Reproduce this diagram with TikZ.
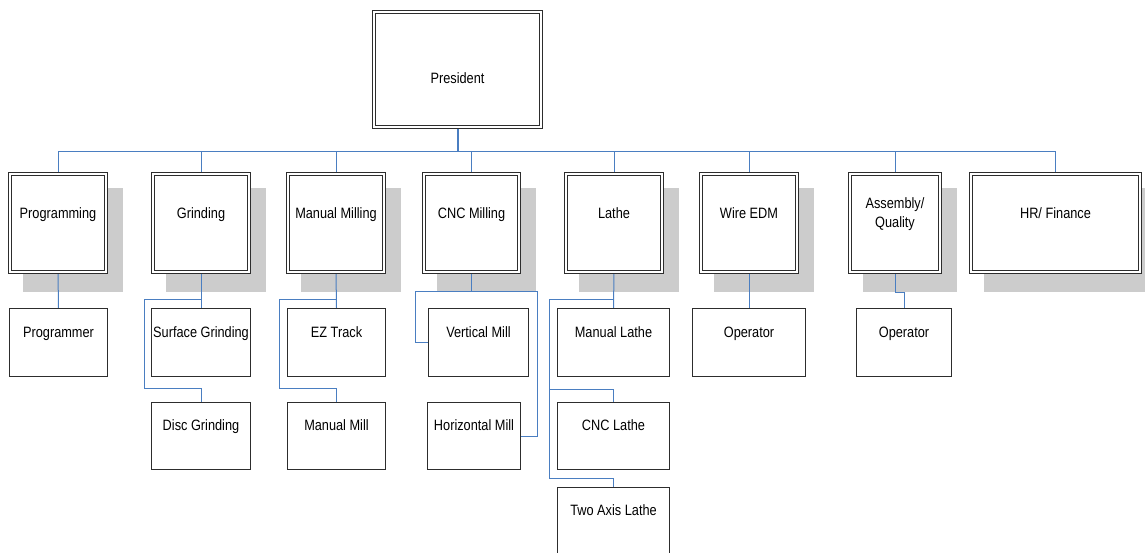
\documentclass[tikz,border=0pt]{standalone}
\usepackage{fontspec}
\newfontfamily\orgfont{Liberation Sans}[FakeStretch=0.85]
\usetikzlibrary{backgrounds}
\definecolor{linkblue}{RGB}{74,126,193}
\definecolor{boxline}{RGB}{45,45,45}
\definecolor{shadowgray}{RGB}{204,204,204}
\begin{document}
\begin{tikzpicture}[x=1pt,y=-1pt,
  every node/.style={font=\orgfont\fontsize{15}{19}\selectfont, align=center, inner sep=0pt},
  dept/.style={draw=boxline, double=white, double distance=2pt, line width=0.9pt, fill=white,
               text height=11pt, text depth=20pt, minimum height=98pt},
  unit/.style={draw=boxline, line width=1pt, fill=white, text height=11pt, text depth=22pt},
  rowA/.style={unit, minimum height=68pt},
  rowB/.style={unit, minimum height=67pt},
  link/.style={draw=linkblue, line width=1pt},
  shadowfill/.style={fill=shadowgray}]
\useasboundingbox (0,0) rectangle (1145,552);

% President
\node[dept, minimum width=167pt, minimum height=115pt, text height=30pt, text depth=3pt] (pres) at (457.5,69.5) {President};

% Departments
\node[dept, minimum width=96pt] (prog)  at (58,223)   {Programming};
\node[dept, minimum width=96pt] (grind) at (201,223)  {Grinding};
\node[dept, minimum width=96pt] (mmill) at (336,223)  {Manual Milling};
\node[dept, minimum width=95pt] (cnc)   at (471.5,223){CNC Milling};
\node[dept, minimum width=96pt] (lathe) at (614,223)  {Lathe};
\node[dept, minimum width=96pt] (wire)  at (749,223)  {Wire EDM};
\node[dept, minimum width=90pt, text height=30pt, text depth=22pt] (asm) at (895,223) {Assembly/\\Quality};
\node[dept, minimum width=169pt] (hr)   at (1055.5,223) {HR/ Finance};

% Units
\node[rowA, minimum width=98pt]  (progr)  at (58.5,342.5) {Programmer};
\node[rowA, minimum width=99pt]  (surf)   at (201,342.5)  {Surface Grinding};
\node[rowB, minimum width=99pt]  (disc)   at (201,436)    {Disc Grinding};
\node[rowA, minimum width=98pt]  (ez)     at (336.5,342.5){EZ Track};
\node[rowB, minimum width=98pt]  (manm)   at (336.5,436)  {Manual Mill};
\node[rowA, minimum width=100pt] (vert)   at (478.5,342.5){Vertical Mill};
\node[rowB, minimum width=93pt]  (horiz)  at (474,436)    {Horizontal Mill};
\node[rowA, minimum width=112pt] (mlathe) at (613.5,342.5){Manual Lathe};
\node[rowB, minimum width=112pt] (clathe) at (613.5,436)  {CNC Lathe};
\node[rowB, minimum width=112pt] (tlathe) at (613.5,521)  {Two Axis Lathe};
\node[rowA, minimum width=113pt] (op1)    at (749,342.5)  {Operator};
\node[rowA, minimum width=95pt]  (op2)    at (904,342.5)  {Operator};

% Free ends of the connectors
\coordinate (bus) at (0,151);
\coordinate (gA) at (144,299);  \coordinate (gB) at (144,388);
\coordinate (mA) at (279,299);  \coordinate (mB) at (279,388);
\coordinate (cL) at (415,291);  \coordinate (cR) at (537,291);
\coordinate (lA) at (549,299);  \coordinate (lB) at (549,389);  \coordinate (lC) at (549,478);
\coordinate (aq) at (0,292);

\begin{scope}[on background layer]
  % shadows
  \foreach \n in {prog,grind,mmill,cnc,lathe,wire,asm,hr}
    \fill[shadowfill] ([shift={(13,14)}]\n.north west) rectangle ([shift={(17,20)}]\n.south east);
  % top level
  \draw[link, line width=2pt] (pres.south) -- (pres.south |- bus);
  \draw[link] (prog.north |- bus) -- (hr.north |- bus);
  \foreach \n in {prog,grind,mmill,cnc,lathe,wire,asm,hr}
    \draw[link] (\n.north |- bus) -- (\n.north);
  % Programming
  \draw[link] (prog.south) -- (progr.north);
  % Grinding
  \draw[link] (grind.south) -- (surf.north);
  \draw[link] (surf.north |- gA) -- (gA) -- (gB) -- (disc.north |- gB) -- (disc.north);
  % Manual Milling
  \draw[link] (mmill.south) -- (ez.north);
  \draw[link] (ez.north |- mA) -- (mA) -- (mB) -- (manm.north |- mB) -- (manm.north);
  % CNC Milling
  \draw[link] (cnc.south) -- (cnc.south |- cL);
  \draw[link] (cL) -- (cR);
  \draw[link] (cL) |- (vert.west);
  \draw[link] (cR) |- (horiz.east);
  % Lathe
  \draw[link] (lathe.south) -- (mlathe.north);
  \draw[link] (mlathe.north |- lA) -- (lA) -- (lC) -- (tlathe.north |- lC) -- (tlathe.north);
  \draw[link] (lB) -- (clathe.north |- lB) -- (clathe.north);
  % Wire EDM
  \draw[link] (wire.south) -- (op1.north);
  % Assembly
  \draw[link] (asm.south) -- (asm.south |- aq) -- (op2.north |- aq) -- (op2.north);
\end{scope}
\end{tikzpicture}
\end{document}
